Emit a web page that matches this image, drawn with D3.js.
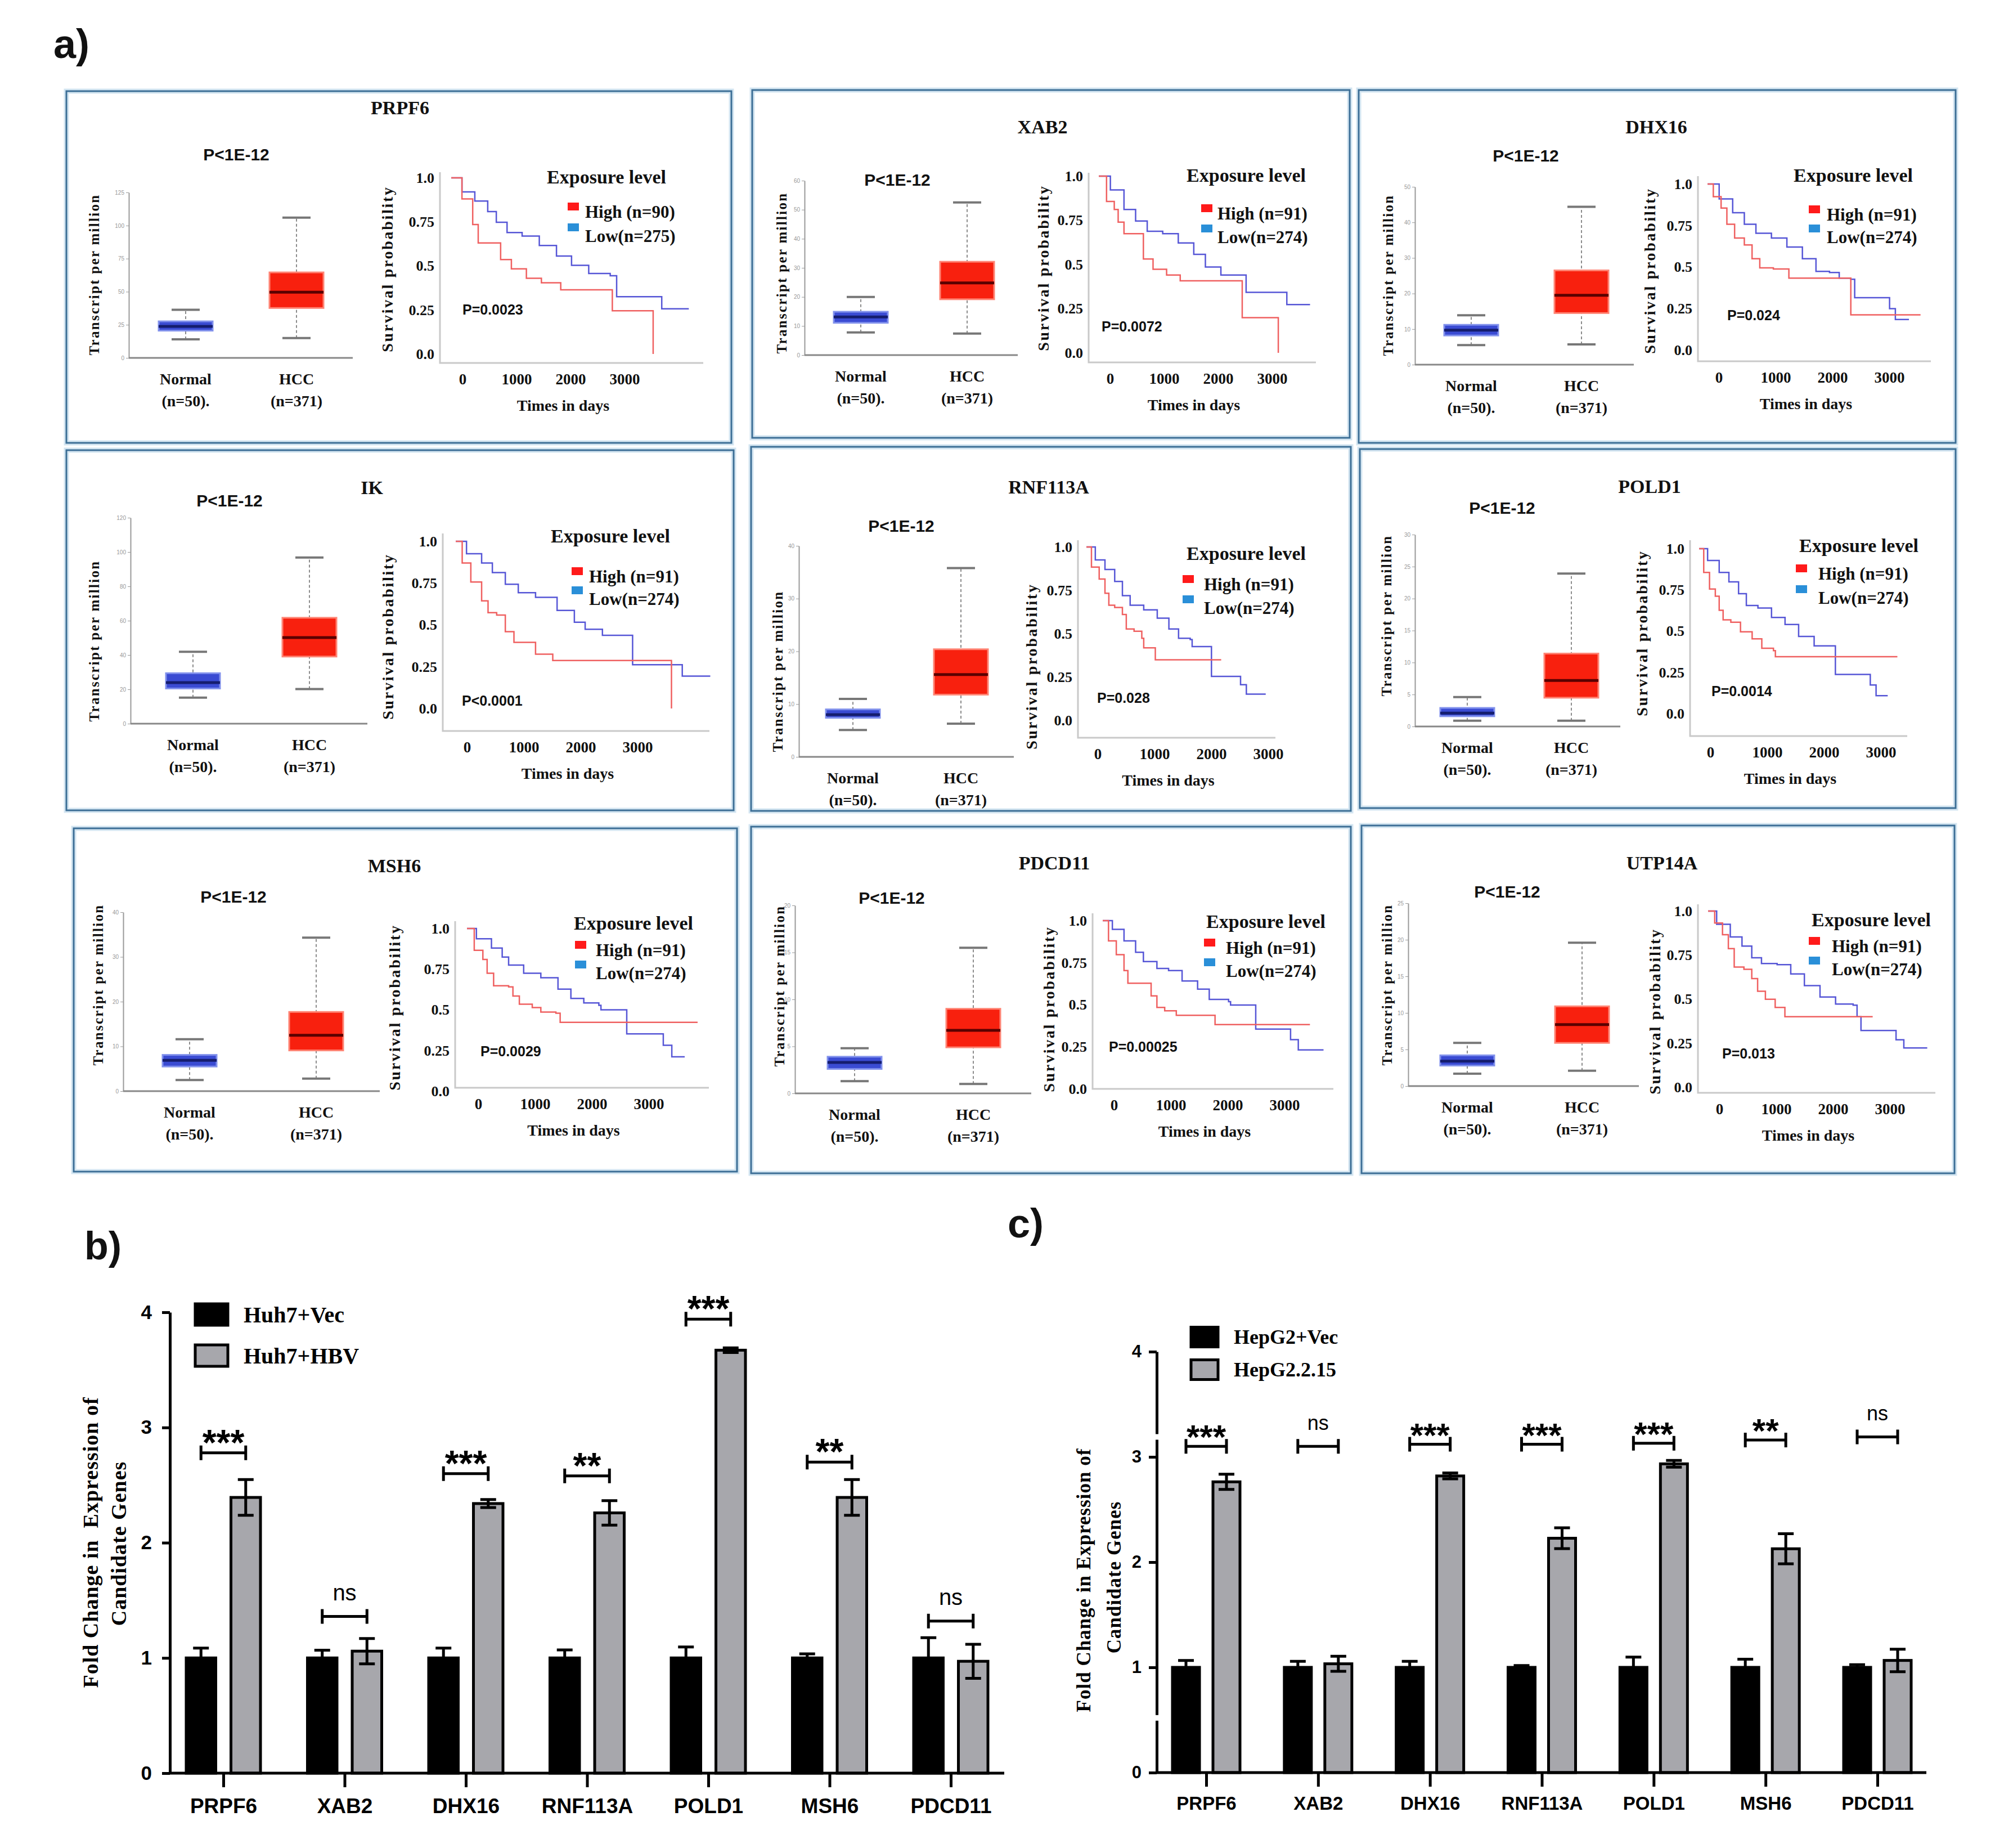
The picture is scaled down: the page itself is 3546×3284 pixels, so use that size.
<!DOCTYPE html>
<meta charset="utf-8">
<style>
    body { margin: 0; background: #fff; }
    svg { display: block; }
</style>
<body>
<svg id="fig" width="3546" height="3284"></svg>
<script src="https://cdn.jsdelivr.net/npm/d3@7/dist/d3.min.js"></script>
<script>
// ---- panel a: expression box plots + survival ----
var genes = ["PRPF6", "XAB2", "DHX16", "IK", "RNF113A", "POLD1", "MSH6", "PDCD11", "UTP14A"]
var boxTop = [125, 60, 50, 120, 40, 30, 40, 20, 25]
var boxStep = [25, 10, 10, 20, 10, 5, 10, 5, 5]
// min, q1, median, q3, max
var normalStats = [
    [14, 20.6, 23.8, 27.6, 36.4],
    [7.8, 11.1, 13.1, 14.9, 20],
    [5.5, 8.2, 9.7, 11.2, 13.9],
    [15.2, 20.5, 23.9, 29.4, 41.9],
    [5.1, 7.4, 8, 9, 11],
    [0.9, 1.6, 2.1, 2.9, 4.6],
    [2.5, 5.5, 6.9, 8.1, 11.6],
    [1.3, 2.6, 3.3, 3.9, 4.8],
    [1.7, 2.8, 3.4, 4.2, 5.9]
]
var hccStats = [
    [15, 37.7, 49.6, 64.6, 106],
    [7.4, 19.2, 24.8, 32.1, 52.5],
    [5.7, 14.5, 19.5, 26.5, 44.4],
    [20.2, 39.1, 50.2, 61.7, 96.8],
    [6.3, 11.8, 15.6, 20.4, 35.8],
    [0.9, 4.5, 7.2, 11.4, 23.9],
    [2.8, 9.1, 12.5, 17.7, 34.3],
    [1, 4.9, 6.7, 9, 15.5],
    [2.1, 5.9, 8.4, 10.9, 19.6]
]
var highN = [90, 91, 91, 91, 91, 91, 91, 91, 91]
var lowN = [275, 274, 274, 274, 274, 274, 274, 274, 274]
var logrankP = ["P=0.0023", "P=0.0072", "P=0.024", "P<0.0001", "P=0.028", "P=0.0014", "P=0.0029", "P=0.00025", "P=0.013"]
// [days, survival probability]
var highCurves = [
    [[0,1],[199,0.88],[398,0.735],[500,0.63],[915,0.536],[1114,0.483],[1392,0.43],[1670,0.404],[2028,0.364],[2983,0.245],[3739,0]],
    [[0,1],[144,0.857],[287,0.811],[359,0.74],[467,0.674],[826,0.531],[1005,0.473],[1256,0.44],[1508,0.408],[2656,0.199],[3324,0]],
    [[0,1],[102,0.924],[239,0.855],[341,0.758],[477,0.675],[648,0.633],[784,0.55],[920,0.495],[1159,0.488],[1432,0.433],[2522,0.212],[3749,0.212]],
    [[0,1],[114,0.87],[266,0.757],[456,0.644],[569,0.573],[721,0.559],[873,0.46],[1025,0.396],[1405,0.325],[1708,0.287],[3797,0]],
    [[0,1],[89,0.884],[225,0.815],[327,0.733],[395,0.664],[498,0.651],[634,0.61],[702,0.527],[839,0.514],[975,0.473],[1009,0.418],[1213,0.349],[2372,0.349]],
    [[0,1],[82,0.856],[184,0.755],[286,0.712],[354,0.626],[423,0.568],[559,0.554],[729,0.496],[934,0.453],[1104,0.396],[1309,0.381],[1343,0.345],[3490,0.345]],
    [[0,1],[128,0.866],[280,0.81],[355,0.725],[469,0.648],[733,0.641],[809,0.585],[922,0.535],[1149,0.514],[1300,0.486],[1565,0.479],[1640,0.423],[4059,0.423]],
    [[0,1],[102,0.88],[239,0.798],[375,0.703],[443,0.628],[852,0.553],[954,0.484],[1091,0.464],[1295,0.437],[1977,0.382],[3647,0.382]],
    [[0,1],[117,0.932],[254,0.866],[357,0.787],[460,0.682],[631,0.669],[769,0.617],[872,0.545],[1009,0.499],[1181,0.453],[1352,0.4],[2897,0.4]]
]
var lowCurves = [
    [[0,1],[199,0.92],[437,0.868],[676,0.808],[835,0.748],[1034,0.689],[1313,0.669],[1631,0.616],[1949,0.556],[2228,0.503],[2546,0.457],[2944,0.444],[3063,0.325],[3898,0.256],[4399,0.256]],
    [[0,1],[215,0.922],[467,0.811],[682,0.746],[897,0.688],[1184,0.674],[1472,0.622],[1759,0.557],[1974,0.486],[2261,0.44],[2728,0.342],[3482,0.273],[3912,0.273]],
    [[0,1],[205,0.91],[443,0.827],[648,0.758],[852,0.703],[1125,0.675],[1397,0.62],[1670,0.55],[1909,0.474],[2147,0.467],[2318,0.433],[2522,0.426],[2590,0.315],[3204,0.249],[3306,0.184],[3545,0.184]],
    [[0,1],[190,0.926],[456,0.87],[645,0.813],[873,0.743],[1101,0.693],[1405,0.665],[1784,0.587],[2088,0.516],[2278,0.474],[2582,0.438],[3113,0.262],[3987,0.194],[4480,0.194]],
    [[0,1],[157,0.925],[327,0.87],[498,0.801],[634,0.719],[770,0.664],[1009,0.637],[1247,0.589],[1452,0.527],[1622,0.473],[1827,0.466],[1861,0.425],[2201,0.253],[2713,0.205],[2815,0.151],[3156,0.151]],
    [[0,1],[150,0.928],[354,0.856],[525,0.799],[695,0.727],[832,0.655],[1036,0.64],[1275,0.583],[1513,0.54],[1752,0.468],[2025,0.41],[2399,0.237],[3013,0.173],[3115,0.108],[3320,0.108]],
    [[0,1],[166,0.937],[431,0.88],[620,0.824],[733,0.775],[998,0.725],[1300,0.697],[1602,0.627],[1829,0.57],[2056,0.542],[2321,0.528],[2358,0.5],[2812,0.352],[3455,0.282],[3605,0.211],[3832,0.211]],
    [[0,1],[170,0.948],[375,0.88],[579,0.812],[716,0.757],[954,0.716],[1159,0.703],[1397,0.641],[1670,0.593],[1875,0.532],[2215,0.518],[2250,0.498],[2693,0.355],[3306,0.293],[3442,0.232],[3886,0.232]],
    [[0,1],[151,0.925],[391,0.853],[597,0.801],[769,0.735],[940,0.702],[1215,0.696],[1455,0.643],[1695,0.577],[1970,0.512],[2244,0.472],[2553,0.466],[2622,0.4],[2691,0.322],[3308,0.269],[3445,0.223],[3857,0.223]]
]

// ---- panels b and c: qPCR fold change ----
var barGenes = ["PRPF6", "XAB2", "DHX16", "RNF113A", "POLD1", "MSH6", "PDCD11"]
var huhVec = [1, 1, 1, 1, 1, 1, 1]
var huhVecErr = [0.085, 0.067, 0.085, 0.07, 0.095, 0.035, 0.176]
var huhHbv = [2.393, 1.059, 2.34, 2.259, 3.671, 2.393, 0.971]
var huhHbvErr = [0.155, 0.11, 0.035, 0.106, 0.02, 0.155, 0.148]
var huhSig = ["***", "ns", "***", "**", "***", "**", "ns"]
var huhSigLevel = [2.78, 1.36, 2.6, 2.58, 3.94, 2.7, 1.32]
var hepVec = [1, 1, 1, 1, 1, 1, 1]
var hepVecErr = [0.066, 0.058, 0.058, 0.018, 0.097, 0.077, 0.026]
var hepG215 = [2.763, 1.034, 2.819, 2.227, 2.934, 2.127, 1.066]
var hepG215Err = [0.072, 0.071, 0.028, 0.099, 0.032, 0.143, 0.107]
var hepSig = ["***", "ns", "***", "***", "***", "**", "ns"]
var hepSigLevel = [3.10, 3.10, 3.12, 3.12, 3.13, 3.16, 3.19]

// layout (pixel positions of each panel piece)
var frames = [[118,162,1182,625],[1337,160,1062,618],[2415,160,1061,627],[118,800,1186,640],[1335,794,1066,647],[2417,798,1059,638],[131,1472,1179,610],[1335,1469,1066,616],[2420,1467,1054,618]]
var layouts = [
    {title:[711,191], p12:[420,274], box:[229,342,636,627,330,527], by:[167,488], surv:[782,306,645,1250,802,316,629,96], sy:[688,478], leg:[1078,314,1019,1040,376,419], pv:[822,550]},
    {title:[1853,225], p12:[1595,319], box:[1430,321,631,1809,1530,1719], by:[1389,485], surv:[1935,307,644,2339,1953,313,627,96], sy:[1854,476], leg:[2215,311,2145,2164,379,421], pv:[1958,580]},
    {title:[2944,225], p12:[2712,276], box:[2515,332,648,2904,2615,2811], by:[2467,489], surv:[3018,313,642,3432,3035,327,622,101], sy:[2932,481], leg:[3294,311,3225,3247,381,421], pv:[3070,560]},
    {title:[661,866], p12:[408,889], box:[232,920,1286,653,343,550], by:[167,1139], surv:[787,948,1299,1261,810,962,1259,101], sy:[689,1131], leg:[1085,952,1026,1047,1024,1064], pv:[821,1245]},
    {title:[1864,865], p12:[1602,934], box:[1420,970,1345,1802,1516,1708], by:[1382,1193], surv:[1916,960,1311,2267,1931,972,1280,101], sy:[1833,1184], leg:[2215,983,2112,2140,1038,1080], pv:[1950,1240]},
    {title:[2932,864], p12:[2670,902], box:[2515,950,1291,2880,2608,2793], by:[2464,1094], surv:[3004,960,1308,3390,3020,975,1268,101], sy:[2918,1125], leg:[3304,969,3202,3232,1019,1062], pv:[3042,1228]},
    {title:[701,1538], p12:[415,1593], box:[219,1621,1939,675,337,562], by:[174,1750], surv:[809,1637,1933,1260,830,1650,1939,101], sy:[701,1790], leg:[1126,1640,1032,1059,1688,1729], pv:[854,1868]},
    {title:[1874,1533], p12:[1585,1595], box:[1413,1609,1943,1833,1519,1730], by:[1385,1752], surv:[1942,1623,1935,2370,1960,1636,1935,101], sy:[1864,1793], leg:[2250,1637,2150,2179,1684,1725], pv:[1971,1860]},
    {title:[2954,1533], p12:[2679,1584], box:[2503,1605,1930,2913,2608,2812], by:[2465,1750], surv:[3018,1607,1942,3440,3036,1619,1932,101], sy:[2941,1797], leg:[3326,1634,3225,3256,1681,1722], pv:[3061,1872]}
]

var serif = '"Liberation Serif", "Times New Roman", serif'
var sans = '"Liberation Sans", Arial, sans-serif'

var svg = d3.select("#fig")
svg.append("rect").attr("width", 3546).attr("height", 3284).attr("fill", "#fff")

function label(g, x, y, s, size, family, anchor) {
    return g.append("text")
        .attr("x", x).attr("y", y)
        .attr("font-family", family)
        .attr("font-size", size)
        .attr("font-weight", "bold")
        .attr("text-anchor", anchor || "middle")
        .attr("dominant-baseline", "central")
        .attr("fill", "#111")
        .text(s)
}

function vlabel(g, x, y, s, size, spacing) {
    return label(g, 0, 0, s, size, serif)
        .attr("transform", "translate(" + x + "," + y + ") rotate(-90)")
        .attr("letter-spacing", spacing || 0)
        .style("white-space", "pre")
}

label(svg, 95, 78, "a)", 72, sans, "start")

genes.forEach(function(gene, i) {
    var f = frames[i], L = layouts[i]
    var g = svg.append("g")

    g.append("rect").attr("x", f[0]).attr("y", f[1]).attr("width", f[2]).attr("height", f[3])
        .attr("fill", "none").attr("stroke", "#d3e5f1").attr("stroke-width", 9)
    g.append("rect").attr("x", f[0]).attr("y", f[1]).attr("width", f[2]).attr("height", f[3])
        .attr("fill", "none").attr("stroke", "#3d6f96").attr("stroke-width", 3)

    label(g, L.title[0], L.title[1], gene, 34, serif)
    label(g, L.p12[0], L.p12[1], "P<1E-12", 30, sans)

    // box plot
    var b = L.box
    var y = d3.scaleLinear().domain([0, boxTop[i]]).range([b[2], b[1]])
    var ax = g.append("g").attr("transform", "translate(" + b[0] + ",0)")
        .call(d3.axisLeft(y).tickValues(d3.range(0, boxTop[i] + 0.001, boxStep[i])).tickSize(5).tickSizeOuter(0).tickPadding(3))
    ax.select(".domain").attr("stroke", "#999").attr("stroke-width", 2)
    ax.selectAll(".tick line").attr("stroke", "#999")
    ax.selectAll("text").attr("font-size", 10).attr("fill", "#999").attr("font-family", sans)
    g.append("line").attr("x1", b[0]).attr("x2", b[3]).attr("y1", b[2]).attr("y2", b[2])
        .attr("stroke", "#888").attr("stroke-width", 3)

    var boxes = [
        {s: normalStats[i], cx: b[4], fill: "#3a4bd3", edge: "#8191ec", mid: "#151d6e"},
        {s: hccStats[i], cx: b[5], fill: "#f8200e", edge: "#ff8474", mid: "#5a0000"}
    ]
    boxes.forEach(function(bx) {
        var s = bx.s, w = 96, cap = 50
        g.append("line").attr("x1", bx.cx).attr("x2", bx.cx).attr("y1", y(s[0])).attr("y2", y(s[4]))
            .attr("stroke", "#666").attr("stroke-width", 1.5).attr("stroke-dasharray", "5,4")
        ;[s[0], s[4]].forEach(function(v) {
            g.append("line").attr("x1", bx.cx - cap / 2).attr("x2", bx.cx + cap / 2).attr("y1", y(v)).attr("y2", y(v))
                .attr("stroke", "#777").attr("stroke-width", 4)
        })
        g.append("rect").attr("x", bx.cx - w / 2).attr("y", y(s[3])).attr("width", w).attr("height", y(s[1]) - y(s[3]))
            .attr("fill", bx.fill).attr("stroke", bx.edge).attr("stroke-width", 3)
        g.append("line").attr("x1", bx.cx - w / 2).attr("x2", bx.cx + w / 2).attr("y1", y(s[2])).attr("y2", y(s[2]))
            .attr("stroke", bx.mid).attr("stroke-width", 5)
    })
    label(g, b[4], b[2] + 37, "Normal", 28, serif)
    label(g, b[4], b[2] + 76, "(n=50).", 28, serif)
    label(g, b[5], b[2] + 37, "HCC", 28, serif)
    label(g, b[5], b[2] + 76, "(n=371)", 28, serif)
    vlabel(g, L.by[0], L.by[1], "Transcript per million", 25, 2.3)

    // survival plot
    var sv = L.surv
    var xs = d3.scaleLinear().domain([0, 1000]).range([sv[4], sv[4] + sv[7]])
    var ys = d3.scaleLinear().domain([0, 1]).range([sv[6], sv[5]])
    g.append("path").attr("d", "M" + sv[0] + "," + sv[1] + "V" + sv[2] + "H" + sv[3])
        .attr("fill", "none").attr("stroke", "#c9c9c9").attr("stroke-width", 3)

    var yl = g.append("g").attr("transform", "translate(" + sv[0] + ",0)")
        .call(d3.axisLeft(ys).tickValues([0, 0.25, 0.5, 0.75, 1]).tickSize(0).tickPadding(10)
            .tickFormat(function(d) { return d === 0 ? "0.0" : d === 1 ? "1.0" : String(d) }))
    yl.select(".domain").remove()
    yl.selectAll("text").attr("font-family", serif).attr("font-weight", "bold").attr("font-size", 26).attr("fill", "#111")

    var xl = g.append("g").attr("transform", "translate(20," + sv[2] + ")")
        .call(d3.axisBottom(xs).tickValues([0, 1000, 2000, 3000]).tickSize(0).tickPadding(19).tickFormat(d3.format("d")))
    xl.select(".domain").remove()
    xl.selectAll("text").attr("font-family", serif).attr("font-weight", "bold").attr("font-size", 27).attr("fill", "#111")

    var line = d3.line().x(function(d) { return xs(d[0]) }).y(function(d) { return ys(d[1]) }).curve(d3.curveStepAfter)
    g.append("path").attr("d", line(lowCurves[i])).attr("fill", "none").attr("stroke", "#5656d6").attr("stroke-width", 2.5)
    g.append("path").attr("d", line(highCurves[i])).attr("fill", "none").attr("stroke", "#ef6060").attr("stroke-width", 2.5)

    label(g, (sv[0] + sv[3]) / 2 - 15, sv[2] + 75, "Times in days", 28, serif)
    vlabel(g, L.sy[0], L.sy[1], "Survival probability", 28, 2.7)

    var lg = L.leg
    label(g, lg[0], lg[1], "Exposure level", 34, serif)
    g.append("rect").attr("x", lg[2] - 10).attr("y", lg[4] - 16).attr("width", 20).attr("height", 14).attr("fill", "#ff1a1a")
    g.append("rect").attr("x", lg[2] - 10).attr("y", lg[5] - 22).attr("width", 20).attr("height", 14).attr("fill", "#2a8fd8")
    label(g, lg[3], lg[4], "High (n=" + highN[i] + ")", 31, serif, "start")
    label(g, lg[3], lg[5], "Low(n=" + lowN[i] + ")", 31, serif, "start")

    label(g, L.pv[0], L.pv[1], logrankP[i], 25, sans, "start")
})

function barChart(opt, vec, vecErr, trt, trtErr, sig, sigLevel) {
    var g = svg.append("g")
    var y = d3.scaleLinear().domain([0, 4]).range([opt.y0, opt.y4])
    var x = d3.scalePoint().domain(barGenes).range([opt.c0, opt.c1])
    var sub = d3.scaleBand().domain(["vec", "trt"]).range([-opt.half, opt.half]).paddingInner(opt.pad)
    var bw = sub.bandwidth()

    var rows = barGenes.map(function(name, k) {
        return {gene: name, k: k, vals: [{key: "vec", v: vec[k], e: vecErr[k]}, {key: "trt", v: trt[k], e: trtErr[k]}]}
    })
    var grp = g.selectAll("g.cat").data(rows).enter().append("g")
        .attr("class", "cat")
        .attr("transform", function(d) { return "translate(" + x(d.gene) + ",0)" })

    grp.selectAll("rect").data(function(d) { return d.vals }).enter().append("rect")
        .attr("x", function(d) { return sub(d.key) })
        .attr("width", bw)
        .attr("y", function(d) { return y(d.v) })
        .attr("height", function(d) { return y(0) - y(d.v) })
        .attr("fill", function(d) { return d.key === "vec" ? "#000" : "#a7a7ac" })
        .attr("stroke", "#000").attr("stroke-width", 5)

    grp.selectAll("path.err").data(function(d) { return d.vals }).enter().append("path")
        .attr("class", "err")
        .attr("d", function(d) {
            var cx = sub(d.key) + bw / 2, c = 14, t = y(d.v + d.e), u = y(d.v - d.e)
            return "M" + (cx - c) + "," + t + "H" + (cx + c) + "M" + cx + "," + t + "V" + u + "M" + (cx - c) + "," + u + "H" + (cx + c)
        })
        .attr("fill", "none").attr("stroke", "#000").attr("stroke-width", 5)

    grp.append("path")
        .attr("d", function(d) {
            var a = sub("vec") + bw / 2, b2 = sub("trt") + bw / 2, yb = y(sigLevel[d.k]), h = 13
            return "M" + a + "," + (yb - h) + "V" + (yb + h) + "M" + a + "," + yb + "H" + b2 + "M" + b2 + "," + (yb - h) + "V" + (yb + h)
        })
        .attr("fill", "none").attr("stroke", "#000").attr("stroke-width", 5)

    grp.append("text")
        .attr("x", (sub("vec") + sub("trt") + bw) / 2)
        .attr("y", function(d) { return sig[d.k] === "ns" ? y(sigLevel[d.k]) - 29 : y(sigLevel[d.k]) + 4 })
        .attr("text-anchor", "middle")
        .attr("font-family", sans)
        .attr("font-weight", function(d) { return sig[d.k] === "ns" ? "normal" : "bold" })
        .attr("font-size", function(d) { return sig[d.k] === "ns" ? opt.nsSize : opt.starSize })
        .text(function(d) { return sig[d.k] })

    // axes
    var ya = g.append("g").attr("transform", "translate(" + opt.x0 + ",0)")
        .call(d3.axisLeft(y).ticks(4).tickFormat(d3.format("d")).tickSize(14).tickSizeOuter(0).tickPadding(opt.tickPad))
    ya.select(".domain").attr("stroke-width", 5)
    ya.selectAll(".tick line").attr("stroke-width", 5)
    ya.selectAll("text").attr("font-family", sans).attr("font-weight", "bold").attr("font-size", opt.tickSize).attr("fill", "#000")

    g.append("line").attr("x1", opt.x0 - 2).attr("x2", opt.x1).attr("y1", y(0)).attr("y2", y(0))
        .attr("stroke", "#000").attr("stroke-width", 5)
    var xa = g.append("g").attr("transform", "translate(0," + y(0) + ")")
        .call(d3.axisBottom(x).tickSize(25).tickPadding(opt.labPad))
    xa.select(".domain").remove()
    xa.selectAll(".tick line").attr("stroke-width", 5)
    xa.selectAll("text").attr("font-family", sans).attr("font-weight", "bold").attr("font-size", opt.labSize).attr("fill", "#000")

    ;(opt.breaks || []).forEach(function(v) {
        g.append("rect").attr("x", opt.x0 - 5).attr("y", y(v) - 5).attr("width", 10).attr("height", 10).attr("fill", "#fff")
    })

    // legend
    opt.legend.forEach(function(name, k) {
        var ly = opt.legY[k]
        g.append("rect").attr("x", opt.legX).attr("y", ly - opt.legH / 2).attr("width", opt.legW).attr("height", opt.legH)
            .attr("fill", k === 0 ? "#000" : "#a7a7ac").attr("stroke", "#000").attr("stroke-width", 5)
        label(g, opt.legX + opt.legW + 28, ly, name, opt.legSize, serif, "start").attr("fill", "#000")
    })

    vlabel(g, opt.title1[0], opt.title1[1], opt.title1[2], opt.titleSize, 1).attr("fill", "#000")
    vlabel(g, opt.title2[0], opt.title2[1], opt.title2[2], opt.titleSize, 1).attr("fill", "#000")
}

label(svg, 150, 2214, "b)", 70, sans, "start")
barChart({
    x0: 302, x1: 1785, y0: 3151, y4: 2332, c0: 397, c1: 1690, half: 66, pad: 0.34,
    tickPad: 18, tickSize: 35, labPad: 20, labSize: 37, starSize: 64, nsSize: 40,
    legend: ["Huh7+Vec", "Huh7+HBV"], legX: 347, legY: [2336, 2409], legW: 58, legH: 38, legSize: 40,
    title1: [161, 2741, "Fold Change in  Expression of"], title2: [211, 2743, "Candidate Genes"], titleSize: 38
}, huhVec, huhVecErr, huhHbv, huhHbvErr, huhSig, huhSigLevel)

label(svg, 1791, 2174, "c)", 72, sans, "start")
barChart({
    x0: 2056, x1: 3424, y0: 3150, y4: 2402, c0: 2144, c1: 3337, half: 60, pad: 0.333,
    tickPad: 13, tickSize: 31, labPad: 18, labSize: 33, starSize: 60, nsSize: 36,
    breaks: [3.19, 0.52],
    legend: ["HepG2+Vec", "HepG2.2.15"], legX: 2117, legY: [2376, 2434], legW: 48, legH: 35, legSize: 36,
    title1: [1926, 2808, "Fold Change in Expression of"], title2: [1980, 2803, "Candidate Genes"], titleSize: 35
}, hepVec, hepVecErr, hepG215, hepG215Err, hepSig, hepSigLevel)
</script>
</body>
